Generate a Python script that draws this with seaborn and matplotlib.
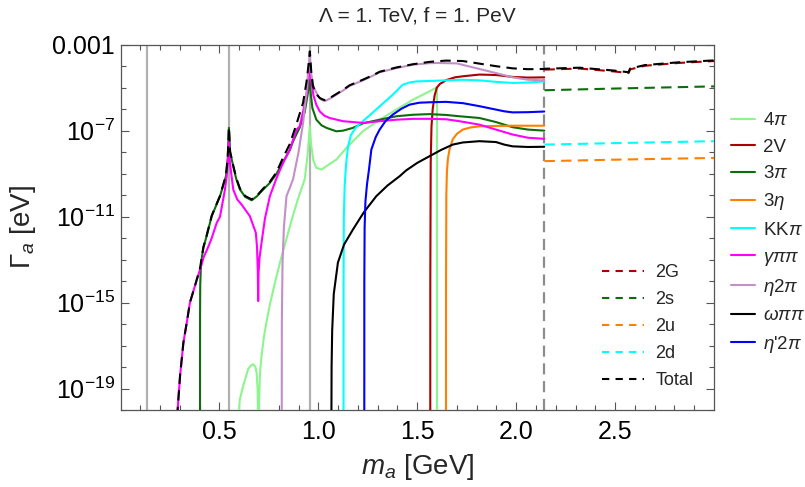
import numpy as np
import matplotlib
matplotlib.use("Agg")
import matplotlib.pyplot as plt
from matplotlib.lines import Line2D
from matplotlib.ticker import FixedLocator, FixedFormatter, NullFormatter
import seaborn as sns

# ---------------------------------------------------------------
# Axion decay widths, Lambda = 1 TeV, f = 1 PeV
# m in GeV, widths stored as log10(Gamma / eV)
# ---------------------------------------------------------------

# meson masses (pi0, eta, eta') and the hadronic/partonic switch
ref_masses = [0.135, 0.548, 0.958]
m_switch = 2.143

# ---- exclusive hadronic channels ----
m_4pi = [0.5945, 0.596, 0.603, 0.620, 0.645, 0.660, 0.671, 0.682, 0.688, 0.693, 0.6955,
         0.6962, 0.699, 0.705, 0.713, 0.725, 0.738, 0.755, 0.780, 0.810, 0.840, 0.870,
         0.900, 0.931, 0.945, 0.957, 0.963, 0.975, 0.990, 1.016, 1.057, 1.091, 1.142,
         1.225, 1.310, 1.394, 1.478, 1.562, 1.596, 1.5995, 1.600]
lg_4pi = [-30, -20.5, -19.5, -18.88, -18.10, -17.92, -17.87, -18.0, -18.26, -19.03, -20.5,
          -26, -20.2, -18.26, -17.48, -16.6, -15.9, -15.1, -14.1, -13.0, -12.0, -11.0,
          -10.1, -9.27, -8.2, -6.8, -7.6, -8.4, -8.73, -8.81, -8.55, -8.35, -7.80,
          -7.03, -6.49, -6.02, -5.56, -5.17, -5.0, -4.98, -30]

m_2v = [1.5655, 1.566, 1.568, 1.572, 1.578, 1.588, 1.599, 1.615, 1.629, 1.646, 1.690,
        1.730, 1.814, 1.898, 1.982, 2.060, 2.142]
lg_2v = [-30, -14, -8.5, -6.8, -6.0, -5.35, -5.0, -4.82, -4.75, -4.65, -4.52,
         -4.47, -4.39, -4.41, -4.50, -4.53, -4.52]

m_3pi = [0.4015, 0.4022, 0.403, 0.406, 0.412, 0.419, 0.436, 0.461, 0.503, 0.533, 0.542,
         0.548, 0.554, 0.570, 0.585, 0.604, 0.630, 0.663, 0.690, 0.721, 0.755,
         0.789, 0.822, 0.856, 0.872, 0.906, 0.931, 0.948, 0.957, 0.962, 0.970,
         0.990, 1.016, 1.041, 1.091, 1.125, 1.175, 1.225, 1.310, 1.394, 1.478,
         1.562, 1.646, 1.713, 1.814, 1.898, 1.982, 2.060, 2.142]
lg_3pi = [-30, -15.5, -14.2, -13.4, -12.85, -12.45, -11.88, -10.98, -10.05, -9.12, -8.3,
          -6.87, -8.0, -8.66, -9.25, -9.74, -10.08, -10.24, -10.05, -9.74, -9.43,
          -9.0, -8.45, -7.9, -7.50, -6.85, -6.15, -5.2, -4.63, -5.3, -5.95,
          -6.49, -6.75, -6.87, -7.03, -7.0, -6.87, -6.66, -6.49, -6.33, -6.26,
          -6.23, -6.27, -6.33, -6.41, -6.6, -6.84, -6.95, -7.0]

m_3eta = [1.645, 1.6455, 1.647, 1.650, 1.655, 1.663, 1.679, 1.700, 1.730, 1.770, 1.814,
          1.900, 2.000, 2.142]
lg_3eta = [-30, -14, -10.0, -8.9, -8.3, -7.88, -7.41, -7.15, -6.95, -6.85, -6.80,
           -6.78, -6.77, -6.77]

m_kkpi = [1.127, 1.1275, 1.129, 1.133, 1.140, 1.150, 1.165, 1.190, 1.225, 1.270, 1.310,
          1.377, 1.427, 1.460, 1.495, 1.612, 1.730, 1.814, 1.900, 1.982, 2.060, 2.142]
lg_kkpi = [-30, -14, -11.0, -9.6, -8.6, -7.75, -7.2, -6.85, -6.56, -6.2, -5.87,
           -5.32, -4.86, -4.76, -4.71, -4.67, -4.63, -4.66, -4.73, -4.78, -4.76, -4.71]

m_gpp = [0.284, 0.2875, 0.289, 0.301, 0.318, 0.335, 0.351, 0.376, 0.402, 0.420,
         0.444, 0.461, 0.486, 0.503, 0.528, 0.537, 0.544, 0.548, 0.553, 0.570,
         0.590, 0.612, 0.654, 0.684, 0.690, 0.694, 0.696, 0.698, 0.703, 0.713,
         0.730, 0.755, 0.789, 0.822, 0.856, 0.890, 0.906, 0.923, 0.940, 0.950,
         0.957, 0.962, 0.975, 0.990, 1.007, 1.030, 1.057, 1.125, 1.225, 1.310,
         1.394, 1.478, 1.562, 1.646, 1.713, 1.814, 1.898, 1.982, 2.060, 2.142]
lg_gpp = [-30, -21.5, -19.96, -18.41, -16.86, -15.93, -15.0, -14.23, -13.46, -12.9,
          -12.4, -12.0, -11.3, -11.0, -9.74, -9.1, -8.2, -7.5, -8.5, -9.74,
          -10.2, -10.44, -10.98, -11.75, -12.4, -13.5, -14.93, -13.6, -12.9, -12.21,
          -11.1, -10.05, -9.20, -8.50, -7.88, -6.95, -6.80, -6.1, -5.40, -4.6,
          -3.85, -4.47, -5.35, -5.8, -6.10, -6.3, -6.41, -6.56, -6.64, -6.56,
          -6.49, -6.45, -6.45, -6.47, -6.56, -6.72, -6.95, -7.18, -7.33, -7.38]

m_e2p = [0.8145, 0.8155, 0.819, 0.826, 0.839, 0.856, 0.872, 0.900, 0.923, 0.940,
         0.948, 0.957, 0.963, 0.973, 0.982, 1.000, 1.016, 1.035, 1.060, 1.125,
         1.158, 1.225, 1.276, 1.310, 1.394, 1.478, 1.562, 1.600, 1.700, 1.814,
         1.898, 1.982, 2.060, 2.142]
lg_e2p = [-30, -16, -13.14, -11.5, -10.05, -9.65, -9.27, -8.0, -6.64, -5.2,
          -4.32, -3.39, -4.3, -4.85, -5.09, -5.40, -5.57, -5.62, -5.50, -5.13,
          -4.92, -4.66, -4.44, -4.28, -4.09, -3.93, -3.86, -3.85, -3.87, -4.13,
          -4.32, -4.52, -4.63, -4.66]

m_wpp = [1.0645, 1.0655, 1.067, 1.070, 1.078, 1.099, 1.130, 1.175, 1.230, 1.293,
         1.350, 1.411, 1.444, 1.500, 1.562, 1.620, 1.679, 1.730, 1.814, 1.898,
         1.940, 1.982, 2.060, 2.142]
lg_wpp = [-30, -22, -18, -16.3, -14.6, -13.14, -12.3, -11.6, -10.8, -10.05,
          -9.55, -9.12, -8.85, -8.5, -8.19, -7.9, -7.65, -7.55, -7.49, -7.53,
          -7.65, -7.73, -7.76, -7.75]

m_ep2p = [1.232, 1.2325, 1.234, 1.238, 1.246, 1.256, 1.268, 1.290, 1.310, 1.340,
          1.377, 1.420, 1.461, 1.510, 1.562, 1.646, 1.730, 1.814, 1.898, 1.940,
          1.982, 2.060, 2.142]
lg_ep2p = [-30, -14, -11.5, -10.3, -9.5, -8.81, -7.88, -7.3, -6.95, -6.55,
           -6.25, -5.98, -5.79, -5.70, -5.68, -5.66, -5.72, -5.86, -6.02, -6.10,
           -6.15, -6.14, -6.11]

# ---- partonic channels above the switch ----
m_glue = [2.143, 2.320, 2.490, 2.568, 2.576, 2.650, 2.820, 3.0]
lg_2g = [-4.16, -4.11, -4.24, -4.32, -4.15, -3.98, -3.85, -3.76]
m_quark = [2.143, 2.5, 3.0]
lg_2s = [-5.12, -5.04, -4.94]
lg_2u = [-8.42, -8.35, -8.27]
lg_2d = [-7.65, -7.58, -7.49]

# ---- total width ----
m_tot = [0.284, 0.2875, 0.289, 0.301, 0.318, 0.335, 0.351, 0.376, 0.402, 0.412,
         0.419, 0.436, 0.461, 0.503, 0.533, 0.542, 0.548, 0.554, 0.570, 0.585,
         0.604, 0.630, 0.663, 0.690, 0.721, 0.755, 0.789, 0.822, 0.856, 0.890,
         0.923, 0.940, 0.950, 0.957, 0.965, 0.973, 0.990, 1.007, 1.030, 1.060,
         1.125, 1.158, 1.225, 1.276, 1.310, 1.394, 1.478, 1.562, 1.600, 1.646,
         1.730, 1.814, 1.898, 1.982, 2.060, 2.142,
         2.143, 2.320, 2.490, 2.568, 2.576, 2.650, 2.820, 3.0]
lg_tot = [-30, -21.5, -19.96, -18.41, -16.86, -15.93, -15.0, -14.23, -13.40, -12.82,
          -12.42, -11.86, -10.96, -10.03, -9.08, -8.25, -6.84, -7.98, -8.63, -9.2,
          -9.70, -10.04, -10.20, -10.02, -9.70, -9.38, -8.93, -8.25, -7.62, -6.68,
          -5.70, -4.75, -3.98, -3.31, -4.35, -4.94, -5.30, -5.48, -5.58, -5.47,
          -5.10, -4.89, -4.63, -4.42, -4.26, -4.06, -3.91, -3.80, -3.77, -3.74,
          -3.76, -3.88, -4.00, -4.10, -4.14, -4.13,
          -4.12, -4.07, -4.20, -4.28, -4.11, -3.95, -3.82, -3.73]

# ---- styling ----
solid_series = [
    (r"4$\pi$", m_4pi, lg_4pi, "#8df58d"),
    ("2V", m_2v, lg_2v, "#aa0000"),
    (r"3$\pi$", m_3pi, lg_3pi, "#0b6e0b"),
    (r"3$\eta$", m_3eta, lg_3eta, "#ff8000"),
    (r"KK$\pi$", m_kkpi, lg_kkpi, "#00ffff"),
    (r"$\gamma\pi\pi$", m_gpp, lg_gpp, "#ff00ff"),
    (r"$\eta$2$\pi$", m_e2p, lg_e2p, "#c38fc8"),
    (r"$\omega\pi\pi$", m_wpp, lg_wpp, "#000000"),
    (r"$\eta$'2$\pi$", m_ep2p, lg_ep2p, "#0000ff"),
]
# (label, m, log-width, colour, dash offset)
dashed_series = [
    ("2G", m_glue, lg_2g, "#aa0000", 0),
    ("2s", m_quark, lg_2s, "#0b6e0b", 0),
    ("2u", m_quark, lg_2u, "#ff8000", 0),
    ("2d", m_quark, lg_2d, "#00ffff", 0),
    ("Total", m_tot, lg_tot, "#000000", 6),
]

sns.set_style("ticks")
plt.rcParams["font.family"] = ["Liberation Sans", "DejaVu Sans"]
plt.rcParams["mathtext.fontset"] = "custom"
plt.rcParams["mathtext.rm"] = "Liberation Sans"
plt.rcParams["mathtext.it"] = "Liberation Sans:italic"
plt.rcParams["mathtext.bf"] = "Liberation Sans:bold"

fig = plt.figure(figsize=(8.05, 4.87), dpi=100)
W, H = 805.0, 487.0
ax = fig.add_axes([120.5 / W, 1 - 410 / H, (714 - 120.5) / W, (410 - 44.7) / H])
ax.set_yscale("log")

for m in ref_masses:
    ax.axvline(m, color="#b0b0b0", lw=1.6, zorder=1)
ax.axvline(m_switch, color="#8c8c8c", lw=1.6, zorder=1, dashes=(5, 3))

LW = 1.5
for label, m, lg, col in solid_series:
    sns.lineplot(x=m, y=10.0 ** np.asarray(lg), ax=ax, color=col, lw=LW,
                 estimator=None, sort=False, legend=False, zorder=3)

for label, m, lg, col, off in dashed_series:
    sns.lineplot(x=m, y=10.0 ** np.asarray(lg), ax=ax, color=col, lw=LW,
                 estimator=None, sort=False, legend=False, zorder=4,
                 dashes=False)
    ax.lines[-1].set_linestyle((off, (5, 3)))

ax.set_xlim(0, 3.0)
ax.set_ylim(1e-20, 1e-3)

# ticks
ax.xaxis.set_major_locator(FixedLocator([0.5, 1.0, 1.5, 2.0, 2.5]))
ax.xaxis.set_major_formatter(FixedFormatter(["0.5", "1.0", "1.5", "2.0", "2.5"]))
ax.xaxis.set_minor_locator(FixedLocator(np.round(np.arange(0.1, 3.0, 0.1), 2)))
ymaj = [1e-19, 1e-15, 1e-11, 1e-7, 1e-3]
ax.yaxis.set_major_locator(FixedLocator(ymaj))
ax.yaxis.set_major_formatter(FixedFormatter(
    [r"$10^{-19}$", r"$10^{-15}$", r"$10^{-11}$", r"$10^{-7}$", "0.001"]))
ax.yaxis.set_minor_locator(FixedLocator([10.0 ** k for k in range(-20, -2)
                                         if k not in (-19, -15, -11, -7, -3)]))
ax.yaxis.set_minor_formatter(NullFormatter())

frame_col = "#555555"
for s in ax.spines.values():
    s.set_color(frame_col)
    s.set_linewidth(0.9)
ax.tick_params(which="both", direction="in", top=True, right=True, color=frame_col,
               width=0.8, labelsize=18, labelcolor="black")
ax.tick_params(which="major", length=6)
ax.tick_params(which="minor", length=3.5)
ax.tick_params(axis="x", pad=7)
ax.tick_params(axis="y", pad=4)

ax.set_xlabel("$m_a$ [GeV]", fontsize=20)
ax.set_ylabel(r"$\Gamma_a$ [eV]", fontsize=20)
ax.xaxis.set_label_coords(0.5, -0.115)
ax.yaxis.set_label_coords(-0.139, 0.5)

fig.text(417 / W, 1 - 16 / H, "\u039b = 1. TeV, f = 1. PeV", ha="center",
         va="center", fontsize=15)

# legends
h1 = [Line2D([], [], color=c, lw=LW) for _, _, _, c in solid_series]
leg1 = fig.legend(h1, [s[0] for s in solid_series], loc="upper left",
                  bbox_to_anchor=(731 / W, 1 - 112 / H), frameon=False, fontsize=13.5,
                  handlelength=1.3, handletextpad=0.42, labelspacing=0.50,
                  borderpad=0, borderaxespad=0)
h2 = [Line2D([], [], color=c, lw=LW, dashes=(3.5, 3)) for _, _, _, c, _ in dashed_series]
leg2 = fig.legend(h2, [s[0] for s in dashed_series], loc="upper left",
                  bbox_to_anchor=(602 / W, 1 - 264 / H), frameon=False, fontsize=13,
                  handlelength=2.3, handletextpad=0.65, labelspacing=0.56,
                  borderpad=0, borderaxespad=0)

fig.savefig("out.png", dpi=100)
